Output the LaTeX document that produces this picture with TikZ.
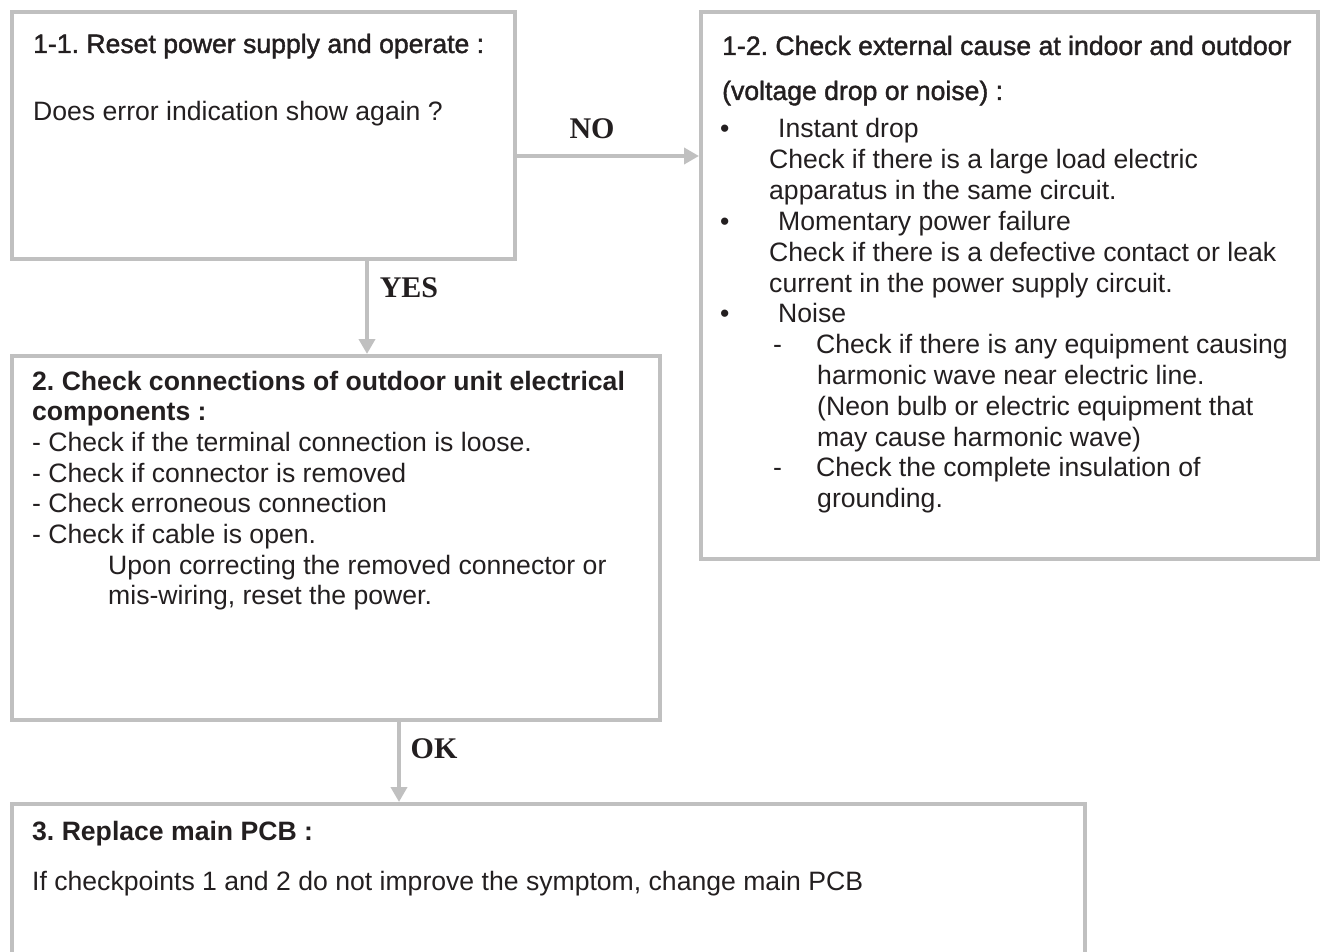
\documentclass[tikz,border=0pt]{standalone}
\usepackage{fontspec}
\setmainfont{Liberation Sans}
\newfontfamily\semibold[FakeBold=1.5]{Liberation Sans}
\newfontfamily\labelserif{Liberation Serif}
\usetikzlibrary{arrows.meta}
\definecolor{bordergray}{HTML}{C0C0C0}
\definecolor{ink}{HTML}{231F20}
\frenchspacing
\begin{document}
\begin{tikzpicture}[x=1pt,y=-1pt,
  box/.style={draw=bordergray, line width=4pt, rectangle, inner sep=0pt, anchor=north west},
  txt/.style={anchor=base west, inner sep=0pt, text=ink, font=\fontsize{26.6}{30.7}\selectfont},
  ttl/.style={txt, font=\fontsize{26.6}{30.7}\selectfont\semibold},
  bttl/.style={txt, font=\fontsize{26.6}{30.7}\selectfont\bfseries},
  lbl/.style={anchor=base, inner sep=0pt, text=ink, font=\fontsize{30}{30}\selectfont\labelserif\bfseries},
  arr/.style={draw=bordergray, line width=4pt, -{Triangle[length=15pt,width=16pt]}}]
\useasboundingbox (0,0) rectangle (1322,952);
\clip (0,0) rectangle (1322,952);
% boxes
\node[box, minimum width=503pt, minimum height=247pt] (b11) at (10,10) {};
\node[box, minimum width=617pt, minimum height=547pt] (b12) at (699,10) {};
\node[box, minimum width=648pt, minimum height=364pt] (b2) at (10,354) {};
\node[box, minimum width=1073pt, minimum height=200pt] (b3) at (10,802) {};
% box 1-1 text
\node[ttl] (t11a) at (33,53) {1-1. Reset power supply and operate :};
\node[txt] (t11b) at (33,121) {Does error indication show again ?};
% box 1-2 text
\node[ttl] (t12a) at (722,55) {1-2. Check external cause at indoor and outdoor};
\node[ttl] (t12b) at (722,100) {(voltage drop or noise) :};
\node[txt] (u1) at (720,138) {•};
\node[txt] (t12c) at (778,138) {Instant drop};
\node[txt] (t12d) at (769,168.8) {Check if there is a large load electric};
\node[txt] (t12e) at (769,199.6) {apparatus in the same circuit.};
\node[txt] (u2) at (720,230.4) {•};
\node[txt] (t12f) at (778,230.4) {Momentary power failure};
\node[txt] (t12g) at (769,261.2) {Check if there is a defective contact or leak};
\node[txt] (t12h) at (769,292) {current in the power supply circuit.};
\node[txt] (u3) at (720,322.8) {•};
\node[txt] (t12i) at (778,322.8) {Noise};
\node[txt] (d1) at (773,353.6) {-};
\node[txt] (t12j) at (816,353.6) {Check if there is any equipment causing};
\node[txt] (t12k) at (817,384.4) {harmonic wave near electric line.};
\node[txt] (t12l) at (817,415.2) {(Neon bulb or electric equipment that};
\node[txt] (t12m) at (817,446) {may cause harmonic wave)};
\node[txt] (d2) at (773,476.8) {-};
\node[txt] (t12n) at (816,476.8) {Check the complete insulation of};
\node[txt] (t12o) at (817,507.6) {grounding.};
% box 2 text
\node[bttl] (t2a) at (32,390) {2. Check connections of outdoor unit electrical};
\node[bttl] (t2b) at (32,420.7) {components :};
\node[txt] (t2c) at (32,451.4) {- Check if the terminal connection is loose.};
\node[txt] (t2d) at (32,482.1) {- Check if connector is removed};
\node[txt] (t2e) at (32,512.8) {- Check erroneous connection};
\node[txt] (t2f) at (32,543.5) {- Check if cable is open.};
\node[txt] (t2g) at (108,574.2) {Upon correcting the removed connector or};
\node[txt] (t2h) at (108,604.9) {mis-wiring, reset the power.};
% box 3 text
\node[bttl] (t3a) at (32,840) {3. Replace main PCB :};
\node[txt] (t3b) at (32,890) {If checkpoints 1 and 2 do not improve the symptom, change main PCB};
% connectors
\draw[arr] (b11.east |- 0,156) -- (b12.west |- 0,156);
\draw[arr] (b11.south -| 367,0) -- (b2.north -| 367,0);
\draw[arr] (b2.south -| 399,0) -- (b3.north -| 399,0);
% labels
\node[lbl] (lno) at (592,139) {NO};
\node[lbl] (lyes) at (409,297) {YES};
\node[lbl] (lok) at (434,758) {OK};
\end{tikzpicture}
\end{document}
